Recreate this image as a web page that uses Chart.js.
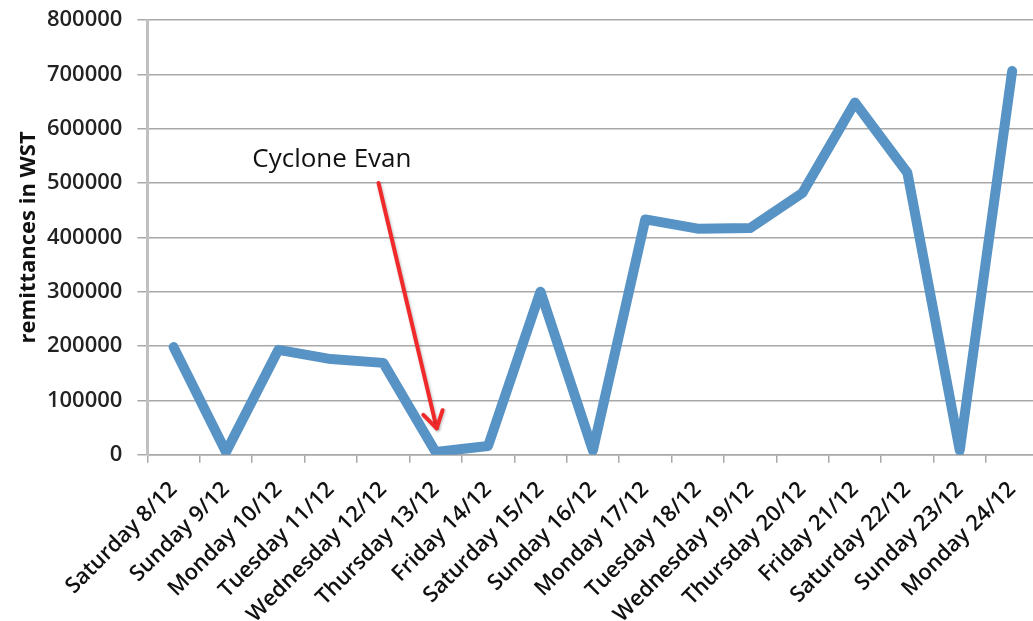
<!DOCTYPE html>
<html>
<head>
<meta charset="utf-8">
<script src="https://cdn.jsdelivr.net/npm/chart.js@4/dist/chart.umd.min.js"></script>
<style>
  html, body { margin: 0; padding: 0; background: #ffffff; overflow: hidden; }
  #wrap { position: relative; width: 1045px; height: 621px; }
</style>
</head>
<body>
<div id="wrap"><canvas id="chart"></canvas></div>
<script>
// Daily remittances received, December
const categories = [
  'Saturday 8/12', 'Sunday 9/12', 'Monday 10/12', 'Tuesday 11/12',
  'Wednesday 12/12', 'Thursday 13/12', 'Friday 14/12', 'Saturday 15/12',
  'Sunday 16/12', 'Monday 17/12', 'Tuesday 18/12', 'Wednesday 19/12',
  'Thursday 20/12', 'Friday 21/12', 'Saturday 22/12', 'Sunday 23/12',
  'Monday 24/12'
];
const remittances = [
  198000, 5000, 193000, 176000, 169000, 5000, 16000, 300000,
  8000, 433000, 416000, 417000, 482000, 648000, 519000, 8000,
  706000
];
const yTickValues = [0, 100000, 200000, 300000, 400000, 500000, 600000, 700000, 800000];
const annotationText = 'Cyclone Evan';

const FONT = "'Open Sans', 'DejaVu Sans', sans-serif";

// Text label and red arrow pointing at the Thursday dip
const cyclonePlugin = {
  id: 'cyclone',
  afterDatasetsDraw(chart) {
    const { ctx, scales: { x, y } } = chart;
    ctx.save();
    // label
    ctx.font = `26px ${FONT}`;
    ctx.fillStyle = '#111111';
    ctx.textAlign = 'center';
    ctx.textBaseline = 'alphabetic';
    ctx.fillText(annotationText, x.getPixelForValue(3.02), y.getPixelForValue(530000));
    // arrow shaft
    const x0 = x.getPixelForValue(3.91), y0 = y.getPixelForValue(500000);
    const x1 = x.getPixelForValue(5.02), y1 = y.getPixelForValue(48600);
    ctx.strokeStyle = '#f02a2a';
    ctx.lineWidth = 4;
    ctx.lineCap = 'round';
    ctx.lineJoin = 'round';
    ctx.shadowColor = 'rgba(0,0,0,0.25)';
    ctx.shadowBlur = 3;
    ctx.shadowOffsetX = 1;
    ctx.shadowOffsetY = 1;
    ctx.beginPath();
    ctx.moveTo(x0, y0);
    ctx.lineTo(x1, y1);
    ctx.stroke();
    // arrow head
    const ang = Math.atan2(y1 - y0, x1 - x0);
    const len = 19, spread = 0.55;
    ctx.beginPath();
    ctx.moveTo(x1 - len * Math.cos(ang - spread), y1 - len * Math.sin(ang - spread));
    ctx.lineTo(x1, y1);
    ctx.lineTo(x1 - len * Math.cos(ang + spread), y1 - len * Math.sin(ang + spread));
    ctx.stroke();
    ctx.restore();
  }
};

new Chart(document.getElementById('chart'), {
  type: 'line',
  data: {
    labels: categories,
    datasets: [{
      data: remittances,
      borderColor: '#5893c5',
      borderWidth: 10,
      borderJoinStyle: 'round',
      borderCapStyle: 'round',
      pointRadius: 0,
      tension: 0,
      fill: false
    }]
  },
  options: {
    responsive: true,
    maintainAspectRatio: false,
    animation: false,
    layout: { padding: { top: 20, right: 6, left: 0, bottom: 0 } },
    plugins: { legend: { display: false }, tooltip: { enabled: false } },
    scales: {
      x: {
        offset: true,
        grid: {
          offset: true,
          drawOnChartArea: false,
          drawTicks: true,
          tickLength: 8,
          color: '#a8a8a8',
          lineWidth: 1.5
        },
        border: { color: '#a8a8a8', width: 1.5 },
        ticks: {
          autoSkip: false,
          maxRotation: 45,
          minRotation: 45,
          padding: 14,
          color: '#111111',
          font: { family: FONT, size: 22, weight: '600' }
        },
        afterFit(scale) { scale.height = 166.3; }
      },
      y: {
        min: 0,
        max: 800000,
        afterBuildTicks(scale) { scale.ticks = yTickValues.map(v => ({ value: v })); },
        grid: {
          color: '#a8a8a8',
          lineWidth: 1.5,
          drawTicks: true,
          tickLength: 10
        },
        border: { color: '#c0c0c0', width: 3 },
        ticks: {
          padding: 15,
          color: '#222222',
          font: { family: FONT, size: 22, weight: '600' },
          callback: v => String(v)
        },
        title: {
          display: true,
          text: 'remittances in WST',
          color: '#111111',
          font: { family: FONT, size: 22, weight: 'bold' },
          padding: { top: 16, bottom: 0 }
        },
        afterFit(scale) {
          scale.width = 147.4;
          scale.paddingTop = 14;
          scale.paddingBottom = 14;
        }
      }
    }
  },
  plugins: [cyclonePlugin]
});
</script>
</body>
</html>
